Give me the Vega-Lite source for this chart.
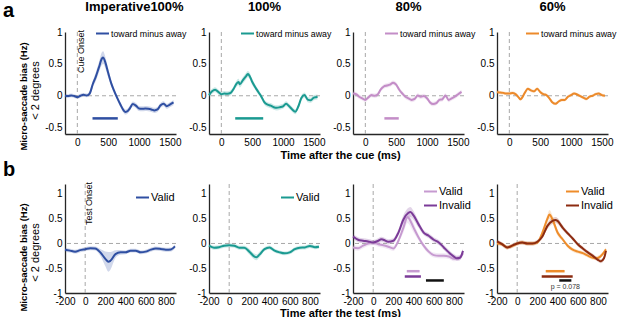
{
"$schema": "https://vega.github.io/schema/vega-lite/v6.json",
"padding": {"left": 3, "top": 1, "right": 0, "bottom": 0},
"config": {
  "font": "Liberation Sans",
  "view": {"stroke": null},
  "axis": {"grid": false, "ticks": false, "domainColor": "#262626", "domainWidth": 1.3, "labelColor": "#000", "labelFontSize": 10, "labelPadding": 3, "labelFlush": false, "labelOverlap": false, "titleColor": "#000", "titleFontWeight": "bold", "titleFontSize": 11},
  "title": {"fontSize": 13, "fontWeight": "bold", "color": "#000", "frame": "group", "offset": 12},
  "legend": {"orient": "none", "labelFontSize": 8.8, "labelOffset": 1, "padding": 0, "rowPadding": 1, "symbolStrokeWidth": 2, "symbolSize": 169, "labelColor": "#000", "symbolType": "stroke"}
},
"datasets": {
"bars": [
{"p":"a1","s":"toward minus away","t":246,"t2":656,"v":-0.355},
{"p":"a2","s":"toward minus away","t":225,"t2":679,"v":-0.355},
{"p":"a3","s":"toward minus away","t":309,"t2":542,"v":-0.355},
{"p":"b3","s":"Valid","t":333,"t2":460,"v":-0.56},
{"p":"b3","s":"Invalid","t":313,"t2":473,"v":-0.667},
{"p":"b3","s":"diff","t":523,"t2":700,"v":-0.747},
{"p":"b4","s":"Valid","t":283,"t2":470,"v":-0.56},
{"p":"b4","s":"Invalid","t":243,"t2":550,"v":-0.667},
{"p":"b4","s":"diff","t":417,"t2":537,"v":-0.747}
],
"curves": [
{"p":"a1","s":"toward minus away","t":-200,"v":0,"lo":-0.03,"hi":0.03},
{"p":"a1","s":"toward minus away","t":-150,"v":-0.005,"lo":-0.035,"hi":0.025},
{"p":"a1","s":"toward minus away","t":-100,"v":0.005,"lo":-0.025,"hi":0.035},
{"p":"a1","s":"toward minus away","t":-50,"v":-0.005,"lo":-0.035,"hi":0.025},
{"p":"a1","s":"toward minus away","t":0,"v":-0.02,"lo":-0.05,"hi":0.01},
{"p":"a1","s":"toward minus away","t":50,"v":0,"lo":-0.03,"hi":0.03},
{"p":"a1","s":"toward minus away","t":100,"v":0.015,"lo":-0.015,"hi":0.045},
{"p":"a1","s":"toward minus away","t":150,"v":0.005,"lo":-0.025,"hi":0.035},
{"p":"a1","s":"toward minus away","t":200,"v":0.035,"lo":-0.005,"hi":0.075},
{"p":"a1","s":"toward minus away","t":250,"v":0.18,"lo":0.13,"hi":0.23},
{"p":"a1","s":"toward minus away","t":300,"v":0.3,"lo":0.23,"hi":0.37},
{"p":"a1","s":"toward minus away","t":350,"v":0.445,"lo":0.365,"hi":0.525},
{"p":"a1","s":"toward minus away","t":400,"v":0.585,"lo":0.485,"hi":0.685},
{"p":"a1","s":"toward minus away","t":420,"v":0.6,"lo":0.5,"hi":0.7},
{"p":"a1","s":"toward minus away","t":450,"v":0.535,"lo":0.445,"hi":0.625},
{"p":"a1","s":"toward minus away","t":500,"v":0.36,"lo":0.29,"hi":0.43},
{"p":"a1","s":"toward minus away","t":550,"v":0.195,"lo":0.145,"hi":0.245},
{"p":"a1","s":"toward minus away","t":600,"v":0.07,"lo":0.03,"hi":0.11},
{"p":"a1","s":"toward minus away","t":650,"v":-0.04,"lo":-0.08,"hi":0},
{"p":"a1","s":"toward minus away","t":700,"v":-0.14,"lo":-0.18,"hi":-0.1},
{"p":"a1","s":"toward minus away","t":750,"v":-0.23,"lo":-0.27,"hi":-0.19},
{"p":"a1","s":"toward minus away","t":780,"v":-0.255,"lo":-0.295,"hi":-0.215},
{"p":"a1","s":"toward minus away","t":800,"v":-0.25,"lo":-0.29,"hi":-0.21},
{"p":"a1","s":"toward minus away","t":850,"v":-0.2,"lo":-0.24,"hi":-0.16},
{"p":"a1","s":"toward minus away","t":900,"v":-0.13,"lo":-0.17,"hi":-0.09},
{"p":"a1","s":"toward minus away","t":950,"v":-0.155,"lo":-0.195,"hi":-0.115},
{"p":"a1","s":"toward minus away","t":1000,"v":-0.2,"lo":-0.24,"hi":-0.16},
{"p":"a1","s":"toward minus away","t":1050,"v":-0.205,"lo":-0.245,"hi":-0.165},
{"p":"a1","s":"toward minus away","t":1100,"v":-0.2,"lo":-0.24,"hi":-0.16},
{"p":"a1","s":"toward minus away","t":1150,"v":-0.205,"lo":-0.245,"hi":-0.165},
{"p":"a1","s":"toward minus away","t":1200,"v":-0.215,"lo":-0.255,"hi":-0.175},
{"p":"a1","s":"toward minus away","t":1250,"v":-0.23,"lo":-0.27,"hi":-0.19},
{"p":"a1","s":"toward minus away","t":1300,"v":-0.215,"lo":-0.255,"hi":-0.175},
{"p":"a1","s":"toward minus away","t":1350,"v":-0.15,"lo":-0.19,"hi":-0.11},
{"p":"a1","s":"toward minus away","t":1400,"v":-0.125,"lo":-0.165,"hi":-0.085},
{"p":"a1","s":"toward minus away","t":1450,"v":-0.165,"lo":-0.205,"hi":-0.125},
{"p":"a1","s":"toward minus away","t":1500,"v":-0.14,"lo":-0.18,"hi":-0.1},
{"p":"a1","s":"toward minus away","t":1560,"v":-0.105,"lo":-0.145,"hi":-0.065},
{"p":"a2","s":"toward minus away","t":-200,"v":0.01,"lo":-0.03,"hi":0.05},
{"p":"a2","s":"toward minus away","t":-150,"v":0.07,"lo":0.03,"hi":0.11},
{"p":"a2","s":"toward minus away","t":-100,"v":0.095,"lo":0.055,"hi":0.135},
{"p":"a2","s":"toward minus away","t":-50,"v":0.06,"lo":0.02,"hi":0.1},
{"p":"a2","s":"toward minus away","t":0,"v":0.025,"lo":-0.015,"hi":0.065},
{"p":"a2","s":"toward minus away","t":50,"v":0.035,"lo":-0.005,"hi":0.075},
{"p":"a2","s":"toward minus away","t":100,"v":0.03,"lo":-0.01,"hi":0.07},
{"p":"a2","s":"toward minus away","t":150,"v":0.045,"lo":0.005,"hi":0.085},
{"p":"a2","s":"toward minus away","t":200,"v":0.11,"lo":0.07,"hi":0.15},
{"p":"a2","s":"toward minus away","t":250,"v":0.195,"lo":0.145,"hi":0.245},
{"p":"a2","s":"toward minus away","t":280,"v":0.215,"lo":0.165,"hi":0.265},
{"p":"a2","s":"toward minus away","t":300,"v":0.18,"lo":0.13,"hi":0.23},
{"p":"a2","s":"toward minus away","t":350,"v":0.245,"lo":0.195,"hi":0.295},
{"p":"a2","s":"toward minus away","t":400,"v":0.305,"lo":0.255,"hi":0.355},
{"p":"a2","s":"toward minus away","t":430,"v":0.34,"lo":0.29,"hi":0.39},
{"p":"a2","s":"toward minus away","t":450,"v":0.325,"lo":0.275,"hi":0.375},
{"p":"a2","s":"toward minus away","t":500,"v":0.22,"lo":0.17,"hi":0.27},
{"p":"a2","s":"toward minus away","t":550,"v":0.135,"lo":0.095,"hi":0.175},
{"p":"a2","s":"toward minus away","t":600,"v":0.06,"lo":0.02,"hi":0.1},
{"p":"a2","s":"toward minus away","t":650,"v":-0.015,"lo":-0.055,"hi":0.025},
{"p":"a2","s":"toward minus away","t":700,"v":-0.105,"lo":-0.145,"hi":-0.065},
{"p":"a2","s":"toward minus away","t":750,"v":-0.14,"lo":-0.18,"hi":-0.1},
{"p":"a2","s":"toward minus away","t":800,"v":-0.155,"lo":-0.195,"hi":-0.115},
{"p":"a2","s":"toward minus away","t":850,"v":-0.18,"lo":-0.22,"hi":-0.14},
{"p":"a2","s":"toward minus away","t":900,"v":-0.19,"lo":-0.23,"hi":-0.15},
{"p":"a2","s":"toward minus away","t":950,"v":-0.18,"lo":-0.22,"hi":-0.14},
{"p":"a2","s":"toward minus away","t":1000,"v":-0.165,"lo":-0.205,"hi":-0.125},
{"p":"a2","s":"toward minus away","t":1050,"v":-0.125,"lo":-0.165,"hi":-0.085},
{"p":"a2","s":"toward minus away","t":1100,"v":-0.165,"lo":-0.205,"hi":-0.125},
{"p":"a2","s":"toward minus away","t":1150,"v":-0.215,"lo":-0.255,"hi":-0.175},
{"p":"a2","s":"toward minus away","t":1200,"v":-0.25,"lo":-0.29,"hi":-0.21},
{"p":"a2","s":"toward minus away","t":1250,"v":-0.165,"lo":-0.205,"hi":-0.125},
{"p":"a2","s":"toward minus away","t":1300,"v":-0.03,"lo":-0.07,"hi":0.01},
{"p":"a2","s":"toward minus away","t":1350,"v":0.01,"lo":-0.03,"hi":0.05},
{"p":"a2","s":"toward minus away","t":1400,"v":-0.06,"lo":-0.1,"hi":-0.02},
{"p":"a2","s":"toward minus away","t":1450,"v":-0.07,"lo":-0.11,"hi":-0.03},
{"p":"a2","s":"toward minus away","t":1500,"v":-0.03,"lo":-0.07,"hi":0.01},
{"p":"a2","s":"toward minus away","t":1560,"v":-0.02,"lo":-0.06,"hi":0.02},
{"p":"a3","s":"toward minus away","t":-200,"v":0.035,"lo":0,"hi":0.07},
{"p":"a3","s":"toward minus away","t":-150,"v":0.025,"lo":-0.01,"hi":0.06},
{"p":"a3","s":"toward minus away","t":-100,"v":-0.015,"lo":-0.05,"hi":0.02},
{"p":"a3","s":"toward minus away","t":-50,"v":-0.04,"lo":-0.075,"hi":-0.005},
{"p":"a3","s":"toward minus away","t":0,"v":-0.065,"lo":-0.1,"hi":-0.03},
{"p":"a3","s":"toward minus away","t":50,"v":-0.025,"lo":-0.06,"hi":0.01},
{"p":"a3","s":"toward minus away","t":100,"v":0.01,"lo":-0.025,"hi":0.045},
{"p":"a3","s":"toward minus away","t":150,"v":0,"lo":-0.035,"hi":0.035},
{"p":"a3","s":"toward minus away","t":200,"v":0.02,"lo":-0.015,"hi":0.055},
{"p":"a3","s":"toward minus away","t":250,"v":0.1,"lo":0.065,"hi":0.135},
{"p":"a3","s":"toward minus away","t":300,"v":0.145,"lo":0.11,"hi":0.18},
{"p":"a3","s":"toward minus away","t":350,"v":0.16,"lo":0.125,"hi":0.195},
{"p":"a3","s":"toward minus away","t":400,"v":0.175,"lo":0.14,"hi":0.21},
{"p":"a3","s":"toward minus away","t":450,"v":0.205,"lo":0.17,"hi":0.24},
{"p":"a3","s":"toward minus away","t":500,"v":0.175,"lo":0.14,"hi":0.21},
{"p":"a3","s":"toward minus away","t":550,"v":0.095,"lo":0.06,"hi":0.13},
{"p":"a3","s":"toward minus away","t":600,"v":0.035,"lo":0,"hi":0.07},
{"p":"a3","s":"toward minus away","t":650,"v":-0.015,"lo":-0.05,"hi":0.02},
{"p":"a3","s":"toward minus away","t":700,"v":-0.04,"lo":-0.075,"hi":-0.005},
{"p":"a3","s":"toward minus away","t":750,"v":-0.065,"lo":-0.1,"hi":-0.03},
{"p":"a3","s":"toward minus away","t":800,"v":-0.05,"lo":-0.085,"hi":-0.015},
{"p":"a3","s":"toward minus away","t":850,"v":0.005,"lo":-0.03,"hi":0.04},
{"p":"a3","s":"toward minus away","t":900,"v":-0.015,"lo":-0.05,"hi":0.02},
{"p":"a3","s":"toward minus away","t":950,"v":-0.005,"lo":-0.04,"hi":0.03},
{"p":"a3","s":"toward minus away","t":1000,"v":-0.04,"lo":-0.075,"hi":-0.005},
{"p":"a3","s":"toward minus away","t":1050,"v":-0.105,"lo":-0.14,"hi":-0.07},
{"p":"a3","s":"toward minus away","t":1100,"v":-0.13,"lo":-0.165,"hi":-0.095},
{"p":"a3","s":"toward minus away","t":1150,"v":-0.115,"lo":-0.15,"hi":-0.08},
{"p":"a3","s":"toward minus away","t":1200,"v":-0.065,"lo":-0.1,"hi":-0.03},
{"p":"a3","s":"toward minus away","t":1250,"v":-0.055,"lo":-0.09,"hi":-0.02},
{"p":"a3","s":"toward minus away","t":1300,"v":0.005,"lo":-0.03,"hi":0.04},
{"p":"a3","s":"toward minus away","t":1350,"v":-0.065,"lo":-0.1,"hi":-0.03},
{"p":"a3","s":"toward minus away","t":1400,"v":-0.04,"lo":-0.075,"hi":-0.005},
{"p":"a3","s":"toward minus away","t":1450,"v":-0.015,"lo":-0.05,"hi":0.02},
{"p":"a3","s":"toward minus away","t":1500,"v":0.02,"lo":-0.015,"hi":0.055},
{"p":"a3","s":"toward minus away","t":1560,"v":0.06,"lo":0.025,"hi":0.095},
{"p":"a4","s":"toward minus away","t":-200,"v":0.06,"lo":0.035,"hi":0.085},
{"p":"a4","s":"toward minus away","t":-150,"v":0.05,"lo":0.025,"hi":0.075},
{"p":"a4","s":"toward minus away","t":-100,"v":0.045,"lo":0.02,"hi":0.07},
{"p":"a4","s":"toward minus away","t":-50,"v":0.035,"lo":0.01,"hi":0.06},
{"p":"a4","s":"toward minus away","t":0,"v":0.035,"lo":0.01,"hi":0.06},
{"p":"a4","s":"toward minus away","t":50,"v":0.045,"lo":0.02,"hi":0.07},
{"p":"a4","s":"toward minus away","t":100,"v":0.025,"lo":0,"hi":0.05},
{"p":"a4","s":"toward minus away","t":150,"v":-0.025,"lo":-0.05,"hi":0},
{"p":"a4","s":"toward minus away","t":180,"v":-0.055,"lo":-0.08,"hi":-0.03},
{"p":"a4","s":"toward minus away","t":200,"v":-0.04,"lo":-0.065,"hi":-0.015},
{"p":"a4","s":"toward minus away","t":250,"v":0.045,"lo":0.02,"hi":0.07},
{"p":"a4","s":"toward minus away","t":300,"v":0.11,"lo":0.085,"hi":0.135},
{"p":"a4","s":"toward minus away","t":350,"v":0.085,"lo":0.06,"hi":0.11},
{"p":"a4","s":"toward minus away","t":400,"v":0.07,"lo":0.045,"hi":0.095},
{"p":"a4","s":"toward minus away","t":450,"v":0.11,"lo":0.085,"hi":0.135},
{"p":"a4","s":"toward minus away","t":500,"v":0.06,"lo":0.035,"hi":0.085},
{"p":"a4","s":"toward minus away","t":550,"v":0.025,"lo":0,"hi":0.05},
{"p":"a4","s":"toward minus away","t":600,"v":0.01,"lo":-0.015,"hi":0.035},
{"p":"a4","s":"toward minus away","t":650,"v":-0.04,"lo":-0.065,"hi":-0.015},
{"p":"a4","s":"toward minus away","t":700,"v":-0.105,"lo":-0.13,"hi":-0.08},
{"p":"a4","s":"toward minus away","t":750,"v":-0.125,"lo":-0.15,"hi":-0.1},
{"p":"a4","s":"toward minus away","t":800,"v":-0.09,"lo":-0.115,"hi":-0.065},
{"p":"a4","s":"toward minus away","t":850,"v":-0.065,"lo":-0.09,"hi":-0.04},
{"p":"a4","s":"toward minus away","t":900,"v":-0.065,"lo":-0.09,"hi":-0.04},
{"p":"a4","s":"toward minus away","t":950,"v":-0.015,"lo":-0.04,"hi":0.01},
{"p":"a4","s":"toward minus away","t":1000,"v":0.01,"lo":-0.015,"hi":0.035},
{"p":"a4","s":"toward minus away","t":1050,"v":0.035,"lo":0.01,"hi":0.06},
{"p":"a4","s":"toward minus away","t":1100,"v":0.02,"lo":-0.005,"hi":0.045},
{"p":"a4","s":"toward minus away","t":1150,"v":-0.005,"lo":-0.03,"hi":0.02},
{"p":"a4","s":"toward minus away","t":1200,"v":-0.03,"lo":-0.055,"hi":-0.005},
{"p":"a4","s":"toward minus away","t":1250,"v":-0.05,"lo":-0.075,"hi":-0.025},
{"p":"a4","s":"toward minus away","t":1300,"v":-0.015,"lo":-0.04,"hi":0.01},
{"p":"a4","s":"toward minus away","t":1350,"v":0,"lo":-0.025,"hi":0.025},
{"p":"a4","s":"toward minus away","t":1400,"v":0.025,"lo":0,"hi":0.05},
{"p":"a4","s":"toward minus away","t":1450,"v":0.035,"lo":0.01,"hi":0.06},
{"p":"a4","s":"toward minus away","t":1500,"v":0.01,"lo":-0.015,"hi":0.035},
{"p":"a4","s":"toward minus away","t":1550,"v":0,"lo":-0.025,"hi":0.025},
{"p":"b1","s":"Valid","t":-200,"v":-0.125,"lo":-0.165,"hi":-0.085},
{"p":"b1","s":"Valid","t":-150,"v":-0.145,"lo":-0.185,"hi":-0.105},
{"p":"b1","s":"Valid","t":-100,"v":-0.165,"lo":-0.205,"hi":-0.125},
{"p":"b1","s":"Valid","t":-50,"v":-0.135,"lo":-0.175,"hi":-0.095},
{"p":"b1","s":"Valid","t":0,"v":-0.115,"lo":-0.155,"hi":-0.075},
{"p":"b1","s":"Valid","t":50,"v":-0.095,"lo":-0.135,"hi":-0.055},
{"p":"b1","s":"Valid","t":100,"v":-0.1,"lo":-0.14,"hi":-0.06},
{"p":"b1","s":"Valid","t":150,"v":-0.18,"lo":-0.25,"hi":-0.11},
{"p":"b1","s":"Valid","t":200,"v":-0.31,"lo":-0.46,"hi":-0.16},
{"p":"b1","s":"Valid","t":230,"v":-0.37,"lo":-0.57,"hi":-0.17},
{"p":"b1","s":"Valid","t":250,"v":-0.35,"lo":-0.53,"hi":-0.17},
{"p":"b1","s":"Valid","t":300,"v":-0.215,"lo":-0.295,"hi":-0.135},
{"p":"b1","s":"Valid","t":350,"v":-0.18,"lo":-0.23,"hi":-0.13},
{"p":"b1","s":"Valid","t":400,"v":-0.18,"lo":-0.22,"hi":-0.14},
{"p":"b1","s":"Valid","t":450,"v":-0.145,"lo":-0.185,"hi":-0.105},
{"p":"b1","s":"Valid","t":500,"v":-0.145,"lo":-0.185,"hi":-0.105},
{"p":"b1","s":"Valid","t":550,"v":-0.18,"lo":-0.22,"hi":-0.14},
{"p":"b1","s":"Valid","t":600,"v":-0.165,"lo":-0.205,"hi":-0.125},
{"p":"b1","s":"Valid","t":650,"v":-0.125,"lo":-0.165,"hi":-0.085},
{"p":"b1","s":"Valid","t":700,"v":-0.1,"lo":-0.14,"hi":-0.06},
{"p":"b1","s":"Valid","t":750,"v":-0.11,"lo":-0.15,"hi":-0.07},
{"p":"b1","s":"Valid","t":800,"v":-0.125,"lo":-0.165,"hi":-0.085},
{"p":"b1","s":"Valid","t":850,"v":-0.12,"lo":-0.16,"hi":-0.08},
{"p":"b1","s":"Valid","t":890,"v":-0.06,"lo":-0.1,"hi":-0.02},
{"p":"b2","s":"Valid","t":-200,"v":-0.045,"lo":-0.085,"hi":-0.005},
{"p":"b2","s":"Valid","t":-150,"v":-0.085,"lo":-0.125,"hi":-0.045},
{"p":"b2","s":"Valid","t":-100,"v":-0.075,"lo":-0.115,"hi":-0.035},
{"p":"b2","s":"Valid","t":-50,"v":-0.045,"lo":-0.085,"hi":-0.005},
{"p":"b2","s":"Valid","t":0,"v":-0.035,"lo":-0.075,"hi":0.005},
{"p":"b2","s":"Valid","t":50,"v":-0.045,"lo":-0.085,"hi":-0.005},
{"p":"b2","s":"Valid","t":100,"v":-0.085,"lo":-0.125,"hi":-0.045},
{"p":"b2","s":"Valid","t":150,"v":-0.085,"lo":-0.125,"hi":-0.045},
{"p":"b2","s":"Valid","t":200,"v":-0.165,"lo":-0.225,"hi":-0.105},
{"p":"b2","s":"Valid","t":250,"v":-0.265,"lo":-0.325,"hi":-0.205},
{"p":"b2","s":"Valid","t":270,"v":-0.28,"lo":-0.34,"hi":-0.22},
{"p":"b2","s":"Valid","t":300,"v":-0.225,"lo":-0.285,"hi":-0.165},
{"p":"b2","s":"Valid","t":350,"v":-0.115,"lo":-0.155,"hi":-0.075},
{"p":"b2","s":"Valid","t":400,"v":-0.08,"lo":-0.12,"hi":-0.04},
{"p":"b2","s":"Valid","t":450,"v":-0.145,"lo":-0.185,"hi":-0.105},
{"p":"b2","s":"Valid","t":500,"v":-0.18,"lo":-0.22,"hi":-0.14},
{"p":"b2","s":"Valid","t":550,"v":-0.2,"lo":-0.24,"hi":-0.16},
{"p":"b2","s":"Valid","t":600,"v":-0.18,"lo":-0.22,"hi":-0.14},
{"p":"b2","s":"Valid","t":650,"v":-0.115,"lo":-0.155,"hi":-0.075},
{"p":"b2","s":"Valid","t":700,"v":-0.085,"lo":-0.125,"hi":-0.045},
{"p":"b2","s":"Valid","t":750,"v":-0.08,"lo":-0.12,"hi":-0.04},
{"p":"b2","s":"Valid","t":800,"v":-0.05,"lo":-0.09,"hi":-0.01},
{"p":"b2","s":"Valid","t":850,"v":-0.075,"lo":-0.115,"hi":-0.035},
{"p":"b2","s":"Valid","t":890,"v":-0.065,"lo":-0.105,"hi":-0.025},
{"p":"b3","s":"Valid","t":-200,"v":-0.08,"lo":-0.13,"hi":-0.03},
{"p":"b3","s":"Valid","t":-150,"v":-0.095,"lo":-0.145,"hi":-0.045},
{"p":"b3","s":"Valid","t":-100,"v":-0.045,"lo":-0.095,"hi":0.005},
{"p":"b3","s":"Valid","t":-50,"v":0,"lo":-0.05,"hi":0.05},
{"p":"b3","s":"Valid","t":0,"v":0.02,"lo":-0.03,"hi":0.07},
{"p":"b3","s":"Valid","t":50,"v":-0.015,"lo":-0.065,"hi":0.035},
{"p":"b3","s":"Valid","t":100,"v":-0.035,"lo":-0.085,"hi":0.015},
{"p":"b3","s":"Valid","t":150,"v":-0.065,"lo":-0.115,"hi":-0.015},
{"p":"b3","s":"Valid","t":200,"v":-0.1,"lo":-0.15,"hi":-0.05},
{"p":"b3","s":"Valid","t":250,"v":0.055,"lo":0.005,"hi":0.105},
{"p":"b3","s":"Valid","t":300,"v":0.32,"lo":0.22,"hi":0.42},
{"p":"b3","s":"Valid","t":340,"v":0.535,"lo":0.415,"hi":0.655},
{"p":"b3","s":"Valid","t":350,"v":0.52,"lo":0.4,"hi":0.64},
{"p":"b3","s":"Valid","t":400,"v":0.32,"lo":0.22,"hi":0.42},
{"p":"b3","s":"Valid","t":450,"v":0.12,"lo":0.06,"hi":0.18},
{"p":"b3","s":"Valid","t":500,"v":-0.045,"lo":-0.095,"hi":0.005},
{"p":"b3","s":"Valid","t":550,"v":-0.165,"lo":-0.215,"hi":-0.115},
{"p":"b3","s":"Valid","t":600,"v":-0.235,"lo":-0.285,"hi":-0.185},
{"p":"b3","s":"Valid","t":650,"v":-0.25,"lo":-0.3,"hi":-0.2},
{"p":"b3","s":"Valid","t":700,"v":-0.25,"lo":-0.3,"hi":-0.2},
{"p":"b3","s":"Valid","t":750,"v":-0.265,"lo":-0.315,"hi":-0.215},
{"p":"b3","s":"Valid","t":800,"v":-0.31,"lo":-0.36,"hi":-0.26},
{"p":"b3","s":"Valid","t":850,"v":-0.3,"lo":-0.35,"hi":-0.25},
{"p":"b3","s":"Valid","t":890,"v":-0.2,"lo":-0.25,"hi":-0.15},
{"p":"b3","s":"Invalid","t":-200,"v":0.14,"lo":0.09,"hi":0.19},
{"p":"b3","s":"Invalid","t":-150,"v":0.075,"lo":0.025,"hi":0.125},
{"p":"b3","s":"Invalid","t":-100,"v":0.055,"lo":0.005,"hi":0.105},
{"p":"b3","s":"Invalid","t":-50,"v":0.04,"lo":-0.01,"hi":0.09},
{"p":"b3","s":"Invalid","t":0,"v":0.02,"lo":-0.03,"hi":0.07},
{"p":"b3","s":"Invalid","t":50,"v":0.055,"lo":0.005,"hi":0.105},
{"p":"b3","s":"Invalid","t":80,"v":0.085,"lo":0.035,"hi":0.135},
{"p":"b3","s":"Invalid","t":100,"v":0.075,"lo":0.025,"hi":0.125},
{"p":"b3","s":"Invalid","t":150,"v":0.035,"lo":-0.015,"hi":0.085},
{"p":"b3","s":"Invalid","t":200,"v":0.055,"lo":0.005,"hi":0.105},
{"p":"b3","s":"Invalid","t":250,"v":0.22,"lo":0.16,"hi":0.28},
{"p":"b3","s":"Invalid","t":300,"v":0.485,"lo":0.395,"hi":0.575},
{"p":"b3","s":"Invalid","t":350,"v":0.62,"lo":0.52,"hi":0.72},
{"p":"b3","s":"Invalid","t":370,"v":0.635,"lo":0.535,"hi":0.735},
{"p":"b3","s":"Invalid","t":400,"v":0.565,"lo":0.475,"hi":0.655},
{"p":"b3","s":"Invalid","t":450,"v":0.385,"lo":0.315,"hi":0.455},
{"p":"b3","s":"Invalid","t":500,"v":0.22,"lo":0.17,"hi":0.27},
{"p":"b3","s":"Invalid","t":550,"v":0.155,"lo":0.105,"hi":0.205},
{"p":"b3","s":"Invalid","t":600,"v":0.075,"lo":0.025,"hi":0.125},
{"p":"b3","s":"Invalid","t":650,"v":0.02,"lo":-0.03,"hi":0.07},
{"p":"b3","s":"Invalid","t":700,"v":-0.08,"lo":-0.13,"hi":-0.03},
{"p":"b3","s":"Invalid","t":750,"v":-0.18,"lo":-0.23,"hi":-0.13},
{"p":"b3","s":"Invalid","t":800,"v":-0.265,"lo":-0.315,"hi":-0.215},
{"p":"b3","s":"Invalid","t":830,"v":-0.3,"lo":-0.35,"hi":-0.25},
{"p":"b3","s":"Invalid","t":860,"v":-0.29,"lo":-0.34,"hi":-0.24},
{"p":"b3","s":"Invalid","t":890,"v":-0.15,"lo":-0.2,"hi":-0.1},
{"p":"b4","s":"Valid","t":-200,"v":0,"lo":-0.04,"hi":0.04},
{"p":"b4","s":"Valid","t":-150,"v":-0.015,"lo":-0.055,"hi":0.025},
{"p":"b4","s":"Valid","t":-100,"v":-0.08,"lo":-0.12,"hi":-0.04},
{"p":"b4","s":"Valid","t":-50,"v":-0.05,"lo":-0.09,"hi":-0.01},
{"p":"b4","s":"Valid","t":0,"v":0,"lo":-0.04,"hi":0.04},
{"p":"b4","s":"Valid","t":50,"v":0.02,"lo":-0.02,"hi":0.06},
{"p":"b4","s":"Valid","t":100,"v":0,"lo":-0.04,"hi":0.04},
{"p":"b4","s":"Valid","t":150,"v":0,"lo":-0.04,"hi":0.04},
{"p":"b4","s":"Valid","t":200,"v":0.02,"lo":-0.02,"hi":0.06},
{"p":"b4","s":"Valid","t":250,"v":0.22,"lo":0.16,"hi":0.28},
{"p":"b4","s":"Valid","t":300,"v":0.5,"lo":0.42,"hi":0.58},
{"p":"b4","s":"Valid","t":320,"v":0.585,"lo":0.495,"hi":0.675},
{"p":"b4","s":"Valid","t":350,"v":0.485,"lo":0.405,"hi":0.565},
{"p":"b4","s":"Valid","t":400,"v":0.22,"lo":0.16,"hi":0.28},
{"p":"b4","s":"Valid","t":450,"v":0.085,"lo":0.045,"hi":0.125},
{"p":"b4","s":"Valid","t":500,"v":-0.045,"lo":-0.085,"hi":-0.005},
{"p":"b4","s":"Valid","t":550,"v":-0.125,"lo":-0.165,"hi":-0.085},
{"p":"b4","s":"Valid","t":600,"v":-0.165,"lo":-0.205,"hi":-0.125},
{"p":"b4","s":"Valid","t":650,"v":-0.195,"lo":-0.235,"hi":-0.155},
{"p":"b4","s":"Valid","t":700,"v":-0.245,"lo":-0.285,"hi":-0.205},
{"p":"b4","s":"Valid","t":750,"v":-0.29,"lo":-0.33,"hi":-0.25},
{"p":"b4","s":"Valid","t":780,"v":-0.3,"lo":-0.34,"hi":-0.26},
{"p":"b4","s":"Valid","t":820,"v":-0.27,"lo":-0.31,"hi":-0.23},
{"p":"b4","s":"Valid","t":860,"v":-0.18,"lo":-0.22,"hi":-0.14},
{"p":"b4","s":"Valid","t":880,"v":-0.12,"lo":-0.16,"hi":-0.08},
{"p":"b4","s":"Invalid","t":-200,"v":0.04,"lo":0,"hi":0.08},
{"p":"b4","s":"Invalid","t":-150,"v":-0.015,"lo":-0.055,"hi":0.025},
{"p":"b4","s":"Invalid","t":-100,"v":-0.08,"lo":-0.12,"hi":-0.04},
{"p":"b4","s":"Invalid","t":-50,"v":-0.045,"lo":-0.085,"hi":-0.005},
{"p":"b4","s":"Invalid","t":0,"v":0,"lo":-0.04,"hi":0.04},
{"p":"b4","s":"Invalid","t":50,"v":0.02,"lo":-0.02,"hi":0.06},
{"p":"b4","s":"Invalid","t":100,"v":0,"lo":-0.04,"hi":0.04},
{"p":"b4","s":"Invalid","t":150,"v":0,"lo":-0.04,"hi":0.04},
{"p":"b4","s":"Invalid","t":200,"v":0.035,"lo":-0.005,"hi":0.075},
{"p":"b4","s":"Invalid","t":250,"v":0.14,"lo":0.1,"hi":0.18},
{"p":"b4","s":"Invalid","t":300,"v":0.355,"lo":0.295,"hi":0.415},
{"p":"b4","s":"Invalid","t":350,"v":0.455,"lo":0.395,"hi":0.515},
{"p":"b4","s":"Invalid","t":380,"v":0.475,"lo":0.415,"hi":0.535},
{"p":"b4","s":"Invalid","t":400,"v":0.455,"lo":0.395,"hi":0.515},
{"p":"b4","s":"Invalid","t":450,"v":0.32,"lo":0.27,"hi":0.37},
{"p":"b4","s":"Invalid","t":500,"v":0.205,"lo":0.165,"hi":0.245},
{"p":"b4","s":"Invalid","t":550,"v":0.1,"lo":0.06,"hi":0.14},
{"p":"b4","s":"Invalid","t":600,"v":-0.015,"lo":-0.055,"hi":0.025},
{"p":"b4","s":"Invalid","t":650,"v":-0.1,"lo":-0.14,"hi":-0.06},
{"p":"b4","s":"Invalid","t":700,"v":-0.18,"lo":-0.22,"hi":-0.14},
{"p":"b4","s":"Invalid","t":750,"v":-0.25,"lo":-0.29,"hi":-0.21},
{"p":"b4","s":"Invalid","t":800,"v":-0.33,"lo":-0.37,"hi":-0.29},
{"p":"b4","s":"Invalid","t":830,"v":-0.36,"lo":-0.4,"hi":-0.32},
{"p":"b4","s":"Invalid","t":860,"v":-0.3,"lo":-0.34,"hi":-0.26},
{"p":"b4","s":"Invalid","t":880,"v":-0.15,"lo":-0.19,"hi":-0.11}
]
},
"title": {"text": "a", "anchor": "start", "frame": "group", "fontSize": 20, "dx": -62, "dy": 20, "offset": 0},
"columns": 4,
"spacing": {"row": 50, "column": 33},
"bounds": "flush",
"align": "each",
"resolve": {"scale": {"color": "independent"}},
"concat": [
  {
   "width": 111, "height": 102,
   "title": {"text": "Imperative100%", "dx": 14},
   "resolve": {"axis": {"x": "independent", "y": "independent"}},
   "layer": [
    {"data": {"name": "curves"}, "transform": [{"filter": "datum.p == 'a1'"}], "mark": {"type": "area", "opacity": 0.22, "interpolate": "monotone", "color": "#2F4FA2"},
     "encoding": {
      "x": {"field": "t", "type": "quantitative", "scale": {"domain": [-200, 1600]}, "axis": {"orient": "bottom", "values": [0, 500, 1000, 1500], "tickCount": 20, "title": null, "labelExpr": "datum.value + ''", "labelOverlap": false}},
      "y": {"field": "lo", "type": "quantitative", "scale": {"domain": [-0.5, 1]}, "axis": {"orient": "left", "tickCount": 3, "labelExpr": "datum.value + ''", "labelOverlap": false, "title": "< 2 degrees", "titleFontWeight": "normal", "titleFontSize": 11, "titlePadding": 4, "titleY": 58}},
      "y2": {"field": "hi"}}},
    {"data": {"values": [{}]}, "mark": {"type": "rule", "color": "#A8A8A8", "strokeDash": [4, 3], "strokeWidth": 1}, "encoding": {"x": {"datum": 0, "type": "quantitative", "axis": null}}},
    {"data": {"values": [{}]}, "mark": {"type": "rule", "color": "#A8A8A8", "strokeDash": [4, 3], "strokeWidth": 1}, "encoding": {"y": {"datum": 0, "type": "quantitative", "axis": null}}},
    {"data": {"name": "curves"}, "transform": [{"filter": "datum.p == 'a1'"}], "mark": {"type": "line", "strokeWidth": 2, "interpolate": "monotone"},
     "encoding": {
      "x": {"field": "t", "type": "quantitative", "axis": null},
      "y": {"field": "v", "type": "quantitative", "axis": null},
      "color": {"field": "s", "type": "nominal", "scale": {"domain": ["toward minus away"], "range": ["#2F4FA2"]}, "legend": {"title": null, "legendX": 30, "legendY": -6}}}},
    {"data": {"name": "bars"}, "transform": [{"filter": "datum.p == 'a1'"}], "mark": {"type": "rule", "strokeWidth": 2.5, "color": "#2F4FA2"},
     "encoding": {"x": {"field": "t", "type": "quantitative", "axis": null}, "x2": {"field": "t2"}, "y": {"field": "v", "type": "quantitative", "axis": null}}},
    {"data": {"values": [{}]}, "mark": {"type": "text", "text": "Cue Onset", "angle": 270, "align": "right", "baseline": "top", "fontSize": 9, "dx": 2, "color": "#000"},
     "encoding": {"x": {"datum": 0, "type": "quantitative", "axis": null}, "y": {"datum": 1, "type": "quantitative", "axis": null}}},
    {"data": {"values": [{}]}, "mark": {"type": "rule", "opacity": 0},
     "encoding": {"y": {"datum": 0, "type": "quantitative", "axis": {"orient": "left", "title": "Micro-saccade bias (Hz)", "labels": false, "domain": false, "ticks": false, "titlePadding": 37, "titleY": 64, "titleFontSize": 9.5}}}}
   ]
  },
  {
   "width": 111, "height": 102,
   "title": {"text": "100%"},
   "resolve": {"axis": {"x": "independent", "y": "independent"}},
   "layer": [
    {"data": {"name": "curves"}, "transform": [{"filter": "datum.p == 'a2'"}], "mark": {"type": "area", "opacity": 0.22, "interpolate": "monotone", "color": "#1A9A91"},
     "encoding": {
      "x": {"field": "t", "type": "quantitative", "scale": {"domain": [-200, 1600]}, "axis": {"orient": "bottom", "values": [0, 500, 1000, 1500], "tickCount": 20, "labelExpr": "datum.value + ''", "labelOverlap": false, "title": "Time after the cue (ms)", "titleX": 131, "titleAlign": "center", "titlePadding": 2}},
      "y": {"field": "lo", "type": "quantitative", "scale": {"domain": [-0.5, 1]}, "axis": {"orient": "left", "tickCount": 3, "labelExpr": "datum.value + ''", "labelOverlap": false, "title": null}},
      "y2": {"field": "hi"}}},
    {"data": {"values": [{}]}, "mark": {"type": "rule", "color": "#A8A8A8", "strokeDash": [4, 3], "strokeWidth": 1}, "encoding": {"x": {"datum": 0, "type": "quantitative", "axis": null}}},
    {"data": {"values": [{}]}, "mark": {"type": "rule", "color": "#A8A8A8", "strokeDash": [4, 3], "strokeWidth": 1}, "encoding": {"y": {"datum": 0, "type": "quantitative", "axis": null}}},
    {"data": {"name": "curves"}, "transform": [{"filter": "datum.p == 'a2'"}], "mark": {"type": "line", "strokeWidth": 2, "interpolate": "monotone"},
     "encoding": {
      "x": {"field": "t", "type": "quantitative", "axis": null},
      "y": {"field": "v", "type": "quantitative", "axis": null},
      "color": {"field": "s", "type": "nominal", "scale": {"domain": ["toward minus away"], "range": ["#1A9A91"]}, "legend": {"title": null, "legendX": 31, "legendY": -6}}}},
    {"data": {"name": "bars"}, "transform": [{"filter": "datum.p == 'a2'"}], "mark": {"type": "rule", "strokeWidth": 2.5, "color": "#1A9A91"},
     "encoding": {"x": {"field": "t", "type": "quantitative", "axis": null}, "x2": {"field": "t2"}, "y": {"field": "v", "type": "quantitative", "axis": null}}}
   ]
  },
  {
   "width": 111, "height": 102,
   "title": {"text": "80%"},
   "resolve": {"axis": {"x": "independent", "y": "independent"}},
   "layer": [
    {"data": {"name": "curves"}, "transform": [{"filter": "datum.p == 'a3'"}], "mark": {"type": "area", "opacity": 0.22, "interpolate": "monotone", "color": "#C38DC7"},
     "encoding": {
      "x": {"field": "t", "type": "quantitative", "scale": {"domain": [-200, 1600]}, "axis": {"orient": "bottom", "values": [0, 500, 1000, 1500], "tickCount": 20, "labelExpr": "datum.value + ''", "labelOverlap": false, "title": null}},
      "y": {"field": "lo", "type": "quantitative", "scale": {"domain": [-0.5, 1]}, "axis": {"orient": "left", "tickCount": 3, "labelExpr": "datum.value + ''", "labelOverlap": false, "title": null}},
      "y2": {"field": "hi"}}},
    {"data": {"values": [{}]}, "mark": {"type": "rule", "color": "#A8A8A8", "strokeDash": [4, 3], "strokeWidth": 1}, "encoding": {"x": {"datum": 0, "type": "quantitative", "axis": null}}},
    {"data": {"values": [{}]}, "mark": {"type": "rule", "color": "#A8A8A8", "strokeDash": [4, 3], "strokeWidth": 1}, "encoding": {"y": {"datum": 0, "type": "quantitative", "axis": null}}},
    {"data": {"name": "curves"}, "transform": [{"filter": "datum.p == 'a3'"}], "mark": {"type": "line", "strokeWidth": 2, "interpolate": "monotone"},
     "encoding": {
      "x": {"field": "t", "type": "quantitative", "axis": null},
      "y": {"field": "v", "type": "quantitative", "axis": null},
      "color": {"field": "s", "type": "nominal", "scale": {"domain": ["toward minus away"], "range": ["#C38DC7"]}, "legend": {"title": null, "legendX": 31, "legendY": -6}}}},
    {"data": {"name": "bars"}, "transform": [{"filter": "datum.p == 'a3'"}], "mark": {"type": "rule", "strokeWidth": 2.5, "color": "#C38DC7"},
     "encoding": {"x": {"field": "t", "type": "quantitative", "axis": null}, "x2": {"field": "t2"}, "y": {"field": "v", "type": "quantitative", "axis": null}}}
   ]
  },
  {
   "width": 111, "height": 102,
   "title": {"text": "60%"},
   "resolve": {"axis": {"x": "independent", "y": "independent"}},
   "layer": [
    {"data": {"name": "curves"}, "transform": [{"filter": "datum.p == 'a4'"}], "mark": {"type": "area", "opacity": 0.22, "interpolate": "monotone", "color": "#EC8A2B"},
     "encoding": {
      "x": {"field": "t", "type": "quantitative", "scale": {"domain": [-200, 1600]}, "axis": {"orient": "bottom", "values": [0, 500, 1000, 1500], "tickCount": 20, "labelExpr": "datum.value + ''", "labelOverlap": false, "title": null}},
      "y": {"field": "lo", "type": "quantitative", "scale": {"domain": [-0.5, 1]}, "axis": {"orient": "left", "tickCount": 3, "labelExpr": "datum.value + ''", "labelOverlap": false, "title": null}},
      "y2": {"field": "hi"}}},
    {"data": {"values": [{}]}, "mark": {"type": "rule", "color": "#A8A8A8", "strokeDash": [4, 3], "strokeWidth": 1}, "encoding": {"x": {"datum": 0, "type": "quantitative", "axis": null}}},
    {"data": {"values": [{}]}, "mark": {"type": "rule", "color": "#A8A8A8", "strokeDash": [4, 3], "strokeWidth": 1}, "encoding": {"y": {"datum": 0, "type": "quantitative", "axis": null}}},
    {"data": {"name": "curves"}, "transform": [{"filter": "datum.p == 'a4'"}], "mark": {"type": "line", "strokeWidth": 2, "interpolate": "monotone"},
     "encoding": {
      "x": {"field": "t", "type": "quantitative", "axis": null},
      "y": {"field": "v", "type": "quantitative", "axis": null},
      "color": {"field": "s", "type": "nominal", "scale": {"domain": ["toward minus away"], "range": ["#EC8A2B"]}, "legend": {"title": null, "legendX": 28, "legendY": -6}}}}
   ]
  },
  {
   "width": 111, "height": 109,
   "title": {"text": "b", "anchor": "start", "dx": -62, "fontSize": 20, "offset": 2},
   "resolve": {"axis": {"x": "independent", "y": "independent"}},
   "layer": [
    {"data": {"name": "curves"}, "transform": [{"filter": "datum.p == 'b1'"}], "mark": {"type": "area", "opacity": 0.22, "interpolate": "monotone", "color": "#2F4FA2"},
     "encoding": {
      "x": {"field": "t", "type": "quantitative", "scale": {"domain": [-200, 900]}, "axis": {"orient": "bottom", "values": [-200, 0, 200, 400, 600, 800], "tickCount": 20, "title": null, "labelExpr": "datum.value + ''", "labelOverlap": false}},
      "y": {"field": "lo", "type": "quantitative", "scale": {"domain": [-1, 1.2]}, "axis": {"orient": "left", "tickCount": 5, "labelExpr": "datum.value + ''", "labelOverlap": false, "title": "< 2 degrees", "titleFontWeight": "normal", "titleFontSize": 11, "titlePadding": 4, "titleY": 68}},
      "y2": {"field": "hi"}}},
    {"data": {"values": [{}]}, "mark": {"type": "rule", "color": "#A8A8A8", "strokeDash": [4, 3], "strokeWidth": 1}, "encoding": {"x": {"datum": 0, "type": "quantitative", "axis": null}}},
    {"data": {"values": [{}]}, "mark": {"type": "rule", "color": "#A8A8A8", "strokeDash": [4, 3], "strokeWidth": 1}, "encoding": {"y": {"datum": 0, "type": "quantitative", "axis": null}}},
    {"data": {"name": "curves"}, "transform": [{"filter": "datum.p == 'b1'"}], "mark": {"type": "line", "strokeWidth": 2, "interpolate": "monotone"},
     "encoding": {
      "x": {"field": "t", "type": "quantitative", "axis": null},
      "y": {"field": "v", "type": "quantitative", "axis": null},
      "color": {"field": "s", "type": "nominal", "scale": {"domain": ["Valid"], "range": ["#2F4FA2"]}, "legend": {"title": null, "legendX": 70, "legendY": 6, "labelFontSize": 11}}}},
    {"data": {"values": [{}]}, "mark": {"type": "text", "text": "Test Onset", "angle": 270, "align": "right", "baseline": "top", "fontSize": 9, "dx": 2, "color": "#000"},
     "encoding": {"x": {"datum": 0, "type": "quantitative", "axis": null}, "y": {"datum": 1.2, "type": "quantitative", "axis": null}}},
    {"data": {"values": [{}]}, "mark": {"type": "rule", "opacity": 0},
     "encoding": {"y": {"datum": 0, "type": "quantitative", "axis": {"orient": "left", "title": "Micro-saccade bias (Hz)", "labels": false, "domain": false, "ticks": false, "titlePadding": 37, "titleY": 73, "titleFontSize": 9.5}}}}
   ]
  },
  {
   "width": 111, "height": 109,
   "resolve": {"axis": {"x": "independent", "y": "independent"}},
   "layer": [
    {"data": {"name": "curves"}, "transform": [{"filter": "datum.p == 'b2'"}], "mark": {"type": "area", "opacity": 0.22, "interpolate": "monotone", "color": "#1A9A91"},
     "encoding": {
      "x": {"field": "t", "type": "quantitative", "scale": {"domain": [-200, 900]}, "axis": {"orient": "bottom", "values": [-200, 0, 200, 400, 600, 800], "tickCount": 20, "labelExpr": "datum.value + ''", "labelOverlap": false, "title": "Time after the test (ms)", "titleX": 131, "titleAlign": "center", "titlePadding": 1}},
      "y": {"field": "lo", "type": "quantitative", "scale": {"domain": [-1, 1.2]}, "axis": {"orient": "left", "tickCount": 5, "labelExpr": "datum.value + ''", "labelOverlap": false, "title": null}},
      "y2": {"field": "hi"}}},
    {"data": {"values": [{}]}, "mark": {"type": "rule", "color": "#A8A8A8", "strokeDash": [4, 3], "strokeWidth": 1}, "encoding": {"x": {"datum": 0, "type": "quantitative", "axis": null}}},
    {"data": {"values": [{}]}, "mark": {"type": "rule", "color": "#A8A8A8", "strokeDash": [4, 3], "strokeWidth": 1}, "encoding": {"y": {"datum": 0, "type": "quantitative", "axis": null}}},
    {"data": {"name": "curves"}, "transform": [{"filter": "datum.p == 'b2'"}], "mark": {"type": "line", "strokeWidth": 2, "interpolate": "monotone"},
     "encoding": {
      "x": {"field": "t", "type": "quantitative", "axis": null},
      "y": {"field": "v", "type": "quantitative", "axis": null},
      "color": {"field": "s", "type": "nominal", "scale": {"domain": ["Valid"], "range": ["#1A9A91"]}, "legend": {"title": null, "legendX": 71, "legendY": 6, "labelFontSize": 11}}}}
   ]
  },
  {
   "width": 111, "height": 109,
   "resolve": {"axis": {"x": "independent", "y": "independent"}},
   "layer": [
    {"data": {"name": "curves"}, "transform": [{"filter": "datum.p == 'b3' && datum.s == 'Valid'"}], "mark": {"type": "area", "opacity": 0.22, "interpolate": "monotone", "color": "#C69AD0"},
     "encoding": {
      "x": {"field": "t", "type": "quantitative", "scale": {"domain": [-200, 900]}, "axis": {"orient": "bottom", "values": [-200, 0, 200, 400, 600, 800], "tickCount": 20, "labelExpr": "datum.value + ''", "labelOverlap": false, "title": null}},
      "y": {"field": "lo", "type": "quantitative", "scale": {"domain": [-1, 1.2]}, "axis": {"orient": "left", "tickCount": 5, "labelExpr": "datum.value + ''", "labelOverlap": false, "title": null}},
      "y2": {"field": "hi"}}},
    {"data": {"name": "curves"}, "transform": [{"filter": "datum.p == 'b3' && datum.s == 'Invalid'"}], "mark": {"type": "area", "opacity": 0.22, "interpolate": "monotone", "color": "#7B3B98"},
     "encoding": {"x": {"field": "t", "type": "quantitative", "axis": null}, "y": {"field": "lo", "type": "quantitative", "axis": null}, "y2": {"field": "hi"}}},
    {"data": {"values": [{}]}, "mark": {"type": "rule", "color": "#A8A8A8", "strokeDash": [4, 3], "strokeWidth": 1}, "encoding": {"x": {"datum": 0, "type": "quantitative", "axis": null}}},
    {"data": {"values": [{}]}, "mark": {"type": "rule", "color": "#A8A8A8", "strokeDash": [4, 3], "strokeWidth": 1}, "encoding": {"y": {"datum": 0, "type": "quantitative", "axis": null}}},
    {"data": {"name": "curves"}, "transform": [{"filter": "datum.p == 'b3'"}], "mark": {"type": "line", "strokeWidth": 2, "interpolate": "monotone"},
     "encoding": {
      "x": {"field": "t", "type": "quantitative", "axis": null},
      "y": {"field": "v", "type": "quantitative", "axis": null},
      "color": {"field": "s", "type": "nominal", "scale": {"domain": ["Valid", "Invalid"], "range": ["#C69AD0", "#7B3B98"]}, "legend": {"title": null, "legendX": 70, "legendY": 0, "labelFontSize": 11}}}},
    {"data": {"name": "bars"}, "transform": [{"filter": "datum.p == 'b3' && datum.s == 'Valid'"}], "mark": {"type": "rule", "strokeWidth": 2.5, "color": "#C69AD0"},
     "encoding": {"x": {"field": "t", "type": "quantitative", "axis": null}, "x2": {"field": "t2"}, "y": {"field": "v", "type": "quantitative", "axis": null}}},
    {"data": {"name": "bars"}, "transform": [{"filter": "datum.p == 'b3' && datum.s == 'Invalid'"}], "mark": {"type": "rule", "strokeWidth": 2.5, "color": "#7B3B98"},
     "encoding": {"x": {"field": "t", "type": "quantitative", "axis": null}, "x2": {"field": "t2"}, "y": {"field": "v", "type": "quantitative", "axis": null}}},
    {"data": {"name": "bars"}, "transform": [{"filter": "datum.p == 'b3' && datum.s == 'diff'"}], "mark": {"type": "rule", "strokeWidth": 2.5, "color": "#111111"},
     "encoding": {"x": {"field": "t", "type": "quantitative", "axis": null}, "x2": {"field": "t2"}, "y": {"field": "v", "type": "quantitative", "axis": null}}}
   ]
  },
  {
   "width": 111, "height": 109,
   "resolve": {"axis": {"x": "independent", "y": "independent"}},
   "layer": [
    {"data": {"name": "curves"}, "transform": [{"filter": "datum.p == 'b4' && datum.s == 'Valid'"}], "mark": {"type": "area", "opacity": 0.22, "interpolate": "monotone", "color": "#EE8C2A"},
     "encoding": {
      "x": {"field": "t", "type": "quantitative", "scale": {"domain": [-200, 900]}, "axis": {"orient": "bottom", "values": [-200, 0, 200, 400, 600, 800], "tickCount": 20, "labelExpr": "datum.value + ''", "labelOverlap": false, "title": null}},
      "y": {"field": "lo", "type": "quantitative", "scale": {"domain": [-1, 1.2]}, "axis": {"orient": "left", "tickCount": 5, "labelExpr": "datum.value + ''", "labelOverlap": false, "title": null}},
      "y2": {"field": "hi"}}},
    {"data": {"name": "curves"}, "transform": [{"filter": "datum.p == 'b4' && datum.s == 'Invalid'"}], "mark": {"type": "area", "opacity": 0.22, "interpolate": "monotone", "color": "#8C2B10"},
     "encoding": {"x": {"field": "t", "type": "quantitative", "axis": null}, "y": {"field": "lo", "type": "quantitative", "axis": null}, "y2": {"field": "hi"}}},
    {"data": {"values": [{}]}, "mark": {"type": "rule", "color": "#A8A8A8", "strokeDash": [4, 3], "strokeWidth": 1}, "encoding": {"x": {"datum": 0, "type": "quantitative", "axis": null}}},
    {"data": {"values": [{}]}, "mark": {"type": "rule", "color": "#A8A8A8", "strokeDash": [4, 3], "strokeWidth": 1}, "encoding": {"y": {"datum": 0, "type": "quantitative", "axis": null}}},
    {"data": {"name": "curves"}, "transform": [{"filter": "datum.p == 'b4'"}], "mark": {"type": "line", "strokeWidth": 2, "interpolate": "monotone"},
     "encoding": {
      "x": {"field": "t", "type": "quantitative", "axis": null},
      "y": {"field": "v", "type": "quantitative", "axis": null},
      "color": {"field": "s", "type": "nominal", "scale": {"domain": ["Valid", "Invalid"], "range": ["#EE8C2A", "#8C2B10"]}, "legend": {"title": null, "legendX": 68, "legendY": 0, "labelFontSize": 11}}}},
    {"data": {"name": "bars"}, "transform": [{"filter": "datum.p == 'b4' && datum.s == 'Valid'"}], "mark": {"type": "rule", "strokeWidth": 2.5, "color": "#EE8C2A"},
     "encoding": {"x": {"field": "t", "type": "quantitative", "axis": null}, "x2": {"field": "t2"}, "y": {"field": "v", "type": "quantitative", "axis": null}}},
    {"data": {"name": "bars"}, "transform": [{"filter": "datum.p == 'b4' && datum.s == 'Invalid'"}], "mark": {"type": "rule", "strokeWidth": 2.5, "color": "#8C2B10"},
     "encoding": {"x": {"field": "t", "type": "quantitative", "axis": null}, "x2": {"field": "t2"}, "y": {"field": "v", "type": "quantitative", "axis": null}}},
    {"data": {"name": "bars"}, "transform": [{"filter": "datum.p == 'b4' && datum.s == 'diff'"}], "mark": {"type": "rule", "strokeWidth": 2.5, "color": "#111111"},
     "encoding": {"x": {"field": "t", "type": "quantitative", "axis": null}, "x2": {"field": "t2"}, "y": {"field": "v", "type": "quantitative", "axis": null}}},
    {"data": {"values": [{}]}, "mark": {"type": "text", "text": "p = 0.078", "fontSize": 7, "color": "#333", "baseline": "middle"},
     "encoding": {"x": {"datum": 477, "type": "quantitative", "axis": null}, "y": {"datum": -0.88, "type": "quantitative", "axis": null}}}
   ]
  }
]
}
